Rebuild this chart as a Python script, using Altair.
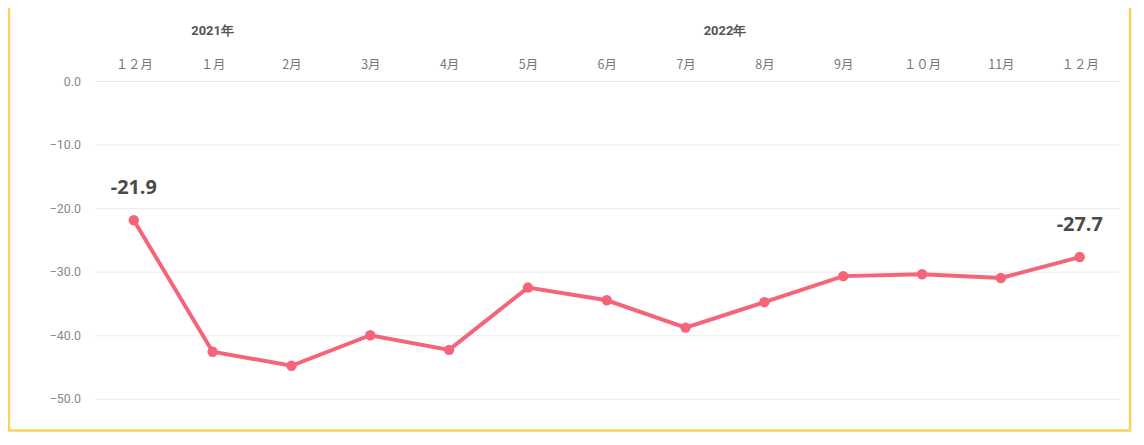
import altair as alt
import pandas as pd

idx = list(range(13))
months = ["１２月", "１月", "2月", "3月", "4月", "5月", "6月", "7月", "8月", "9月", "１０月", "11月", "１２月"]
values = [-21.9, -42.6, -44.8, -40.0, -42.3, -32.5, -34.5, -38.8, -34.8, -30.7, -30.4, -31.0, -27.7]
label_idx = [0, 12]
year_labels = ["2021年", "2022年"]
year_pos = [1.0, 7.5]

df = pd.DataFrame({"i": idx, "m": months, "v": values})
df_lab = df[df["i"].isin(label_idx)].copy()
df_lab["t"] = df_lab["v"].map(lambda x: f"{x:.1f}")
df_year = pd.DataFrame({"p": year_pos, "t": year_labels})

label_expr = "[" + ",".join(f"'{m}'" for m in months) + "][datum.value]"

x_scale = alt.Scale(domain=[-0.5, 12.5], nice=False, zero=False)
y_scale = alt.Scale(domain=[-50, 0], nice=False)

RED = "#F5647A"

x_axis = alt.Axis(orient="top", values=idx, labelExpr=label_expr, grid=False, domain=False,
                  ticks=False, labelPadding=10, labelFont="Noto Sans CJK JP", labelFontSize=12.5,
                  labelColor="#777777", title=None)
y_axis = alt.Axis(values=[0, -10, -20, -30, -40, -50], format=".1f", grid=True, gridColor="#ebebeb",
                  domain=False, ticks=False, labelPadding=14, labelFont="Roboto", labelFontSize=12.5,
                  labelColor="#888888", title=None)

base = alt.Chart(df)

line = base.mark_line(color=RED, strokeWidth=4).encode(
    x=alt.X("i:Q", scale=x_scale, axis=x_axis),
    y=alt.Y("v:Q", scale=y_scale, axis=y_axis),
)
pts = base.mark_circle(color=RED, size=110, opacity=1).encode(
    x=alt.X("i:Q", scale=x_scale),
    y=alt.Y("v:Q", scale=y_scale),
)
labels = alt.Chart(df_lab).mark_text(dy=-32, fontSize=20, fontWeight="bold", color="#4a4a4a",
                                     font="Open Sans").encode(
    x=alt.X("i:Q", scale=x_scale),
    y=alt.Y("v:Q", scale=y_scale),
    text="t:N",
)
years = alt.Chart(df_year).mark_text(y=-50, fontSize=13, fontWeight="bold", color="#555555",
                                     font="Roboto").encode(
    x=alt.X("p:Q", scale=x_scale),
    text="t:N",
)
border = alt.Chart(pd.DataFrame({"a": [0]})).mark_rect(fill=None, stroke="#F7D55C", strokeWidth=2.5).encode(
    x=alt.value(-86), x2=alt.value(1043), y=alt.value(-90), y2=alt.value(352)
)

chart = alt.layer(border, line, pts, labels, years).properties(
    width=1032, height=320,
    background="white",
    autosize=alt.AutoSizeParams(type="none"),
    padding={"left": 87, "top": 72, "right": 17, "bottom": 45},
).configure_view(strokeWidth=0, stroke=None)

chart.save("out.html", embed_options={"renderer": "svg", "actions": False})
